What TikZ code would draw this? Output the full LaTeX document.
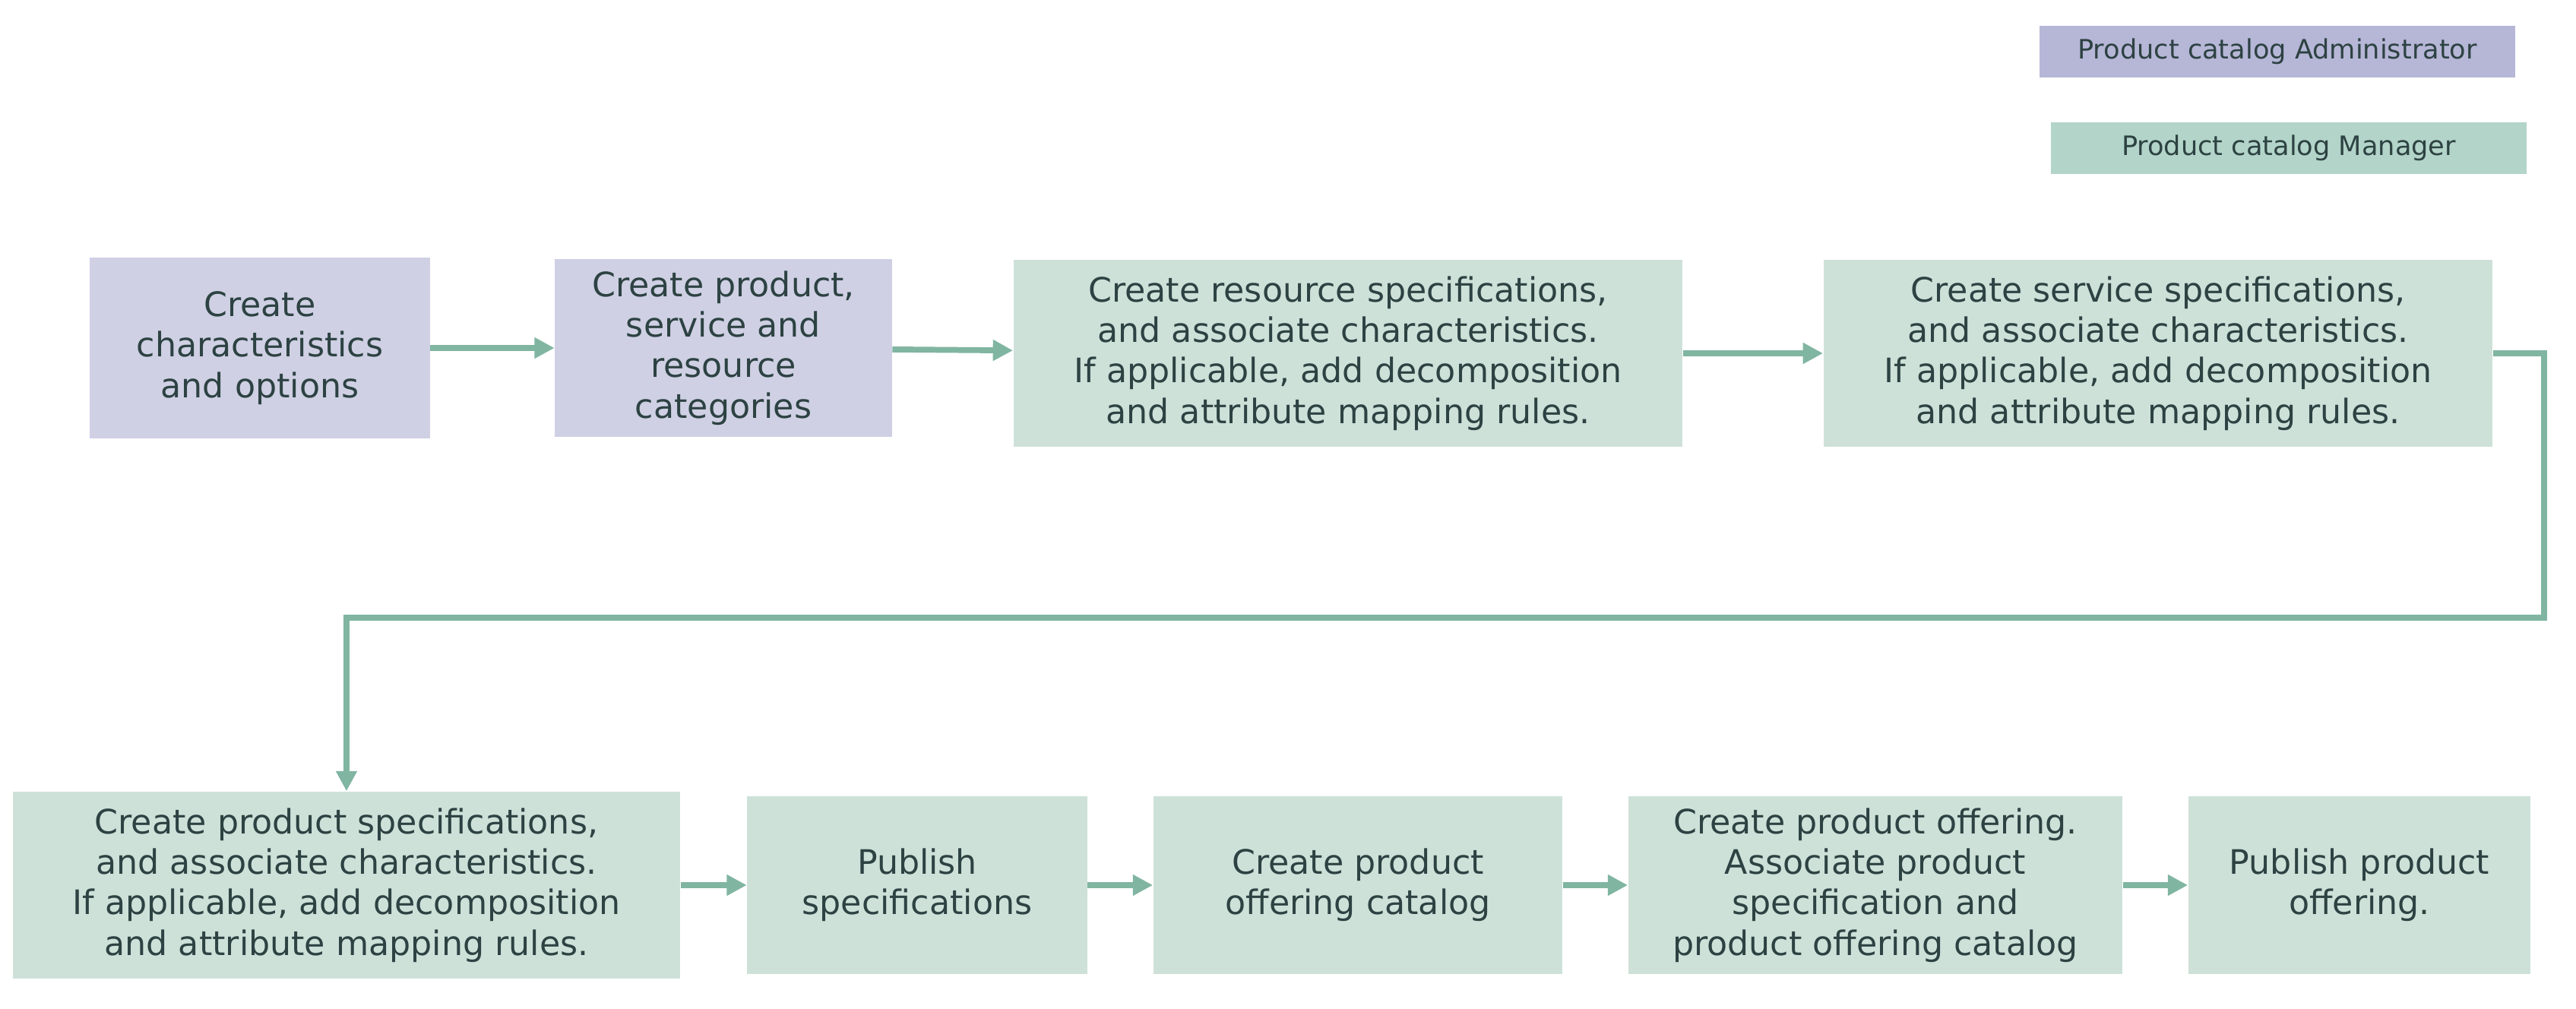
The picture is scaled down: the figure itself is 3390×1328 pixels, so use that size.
\documentclass[tikz,border=0pt]{standalone}
\usepackage{fontspec}
\setmainfont{DejaVu Sans}
\usepackage{xcolor}
\usepackage{tikz}
\usetikzlibrary{calc, shapes, arrows.meta, positioning}

\definecolor{adminfill}{HTML}{CFD0E4}
\definecolor{adminkey}{HTML}{B6B6D7}
\definecolor{mgrfill}{HTML}{CEE1D9}
\definecolor{mgrkey}{HTML}{B3D4C8}
\definecolor{flowcol}{HTML}{80B5A2}
\definecolor{textcol}{HTML}{2D4242}

\begin{document}
\begin{tikzpicture}[x=0.01cm, y=-0.01cm,
			task/.style={rectangle, inner sep=0pt, align=center, text=textcol, minimum height=2.33cm, font=\fontsize{12.6}{15.2}\selectfont},
			admin/.style={task, fill=adminfill},
			manager/.style={task, fill=mgrfill},
			narrow/.style={minimum width=4.47cm},
			wide/.style={minimum width=8.8cm, minimum height=2.46cm},
			key/.style={rectangle, inner sep=0pt, text=textcol, minimum width=6.25cm, minimum height=0.67cm, font=\fontsize{10}{12}\selectfont},
			flow/.style={-{Triangle[length=7.5pt, width=7.5pt]}, line width=2.2pt, flowcol}
			]
			\useasboundingbox (0,0) rectangle (3390,1328);
			% legend
			\node [key, fill=adminkey](k1) at (2997,68) {Product catalog Administrator};
			\node [key, fill=mgrkey](k2) at (3012,195) {Product catalog Manager};
			% first row
			\node [admin, narrow, minimum height=2.38cm](b1) at (342,458) {Create\\characteristics\\and options};
			\node [admin, minimum width=4.43cm](b2) at (952,458) {Create product,\\service and\\resource\\categories};
			\node [manager, wide](b3) at (1774,465) {Create resource specifications,\\and associate characteristics.\\If applicable, add decomposition\\and attribute mapping rules.};
			\node [manager, wide](b4) at (2840,465) {Create service specifications,\\and associate characteristics.\\If applicable, add decomposition\\and attribute mapping rules.};
			% second row
			\node [manager, wide, minimum width=8.78cm](b5) at (456,1165) {Create product specifications,\\and associate characteristics.\\If applicable, add decomposition\\and attribute mapping rules.};
			\node [manager, narrow](b6) at (1207,1165) {Publish\\specifications};
			\node [manager, minimum width=5.38cm](b7) at (1787,1165) {Create product\\offering catalog};
			\node [manager, minimum width=6.5cm](b8) at (2468,1165) {Create product offering.\\Associate product\\specification and\\product offering catalog};
			\node [manager, minimum width=4.5cm](b9) at (3105,1165) {Publish product\\offering.};

			\draw[flow] (b1) -- (b2);
			\draw[flow] (b2) -- (b3);
			\draw[flow] (b3) -- (b4);
			\draw[flow] (b4.east) -- ++(67,0) -- ++(0,348) -| (b5.north);
			\draw[flow] (b5) -- (b6);
			\draw[flow] (b6) -- (b7);
			\draw[flow] (b7) -- (b8);
			\draw[flow] (b8) -- (b9);
		\end{tikzpicture}
\end{document}
